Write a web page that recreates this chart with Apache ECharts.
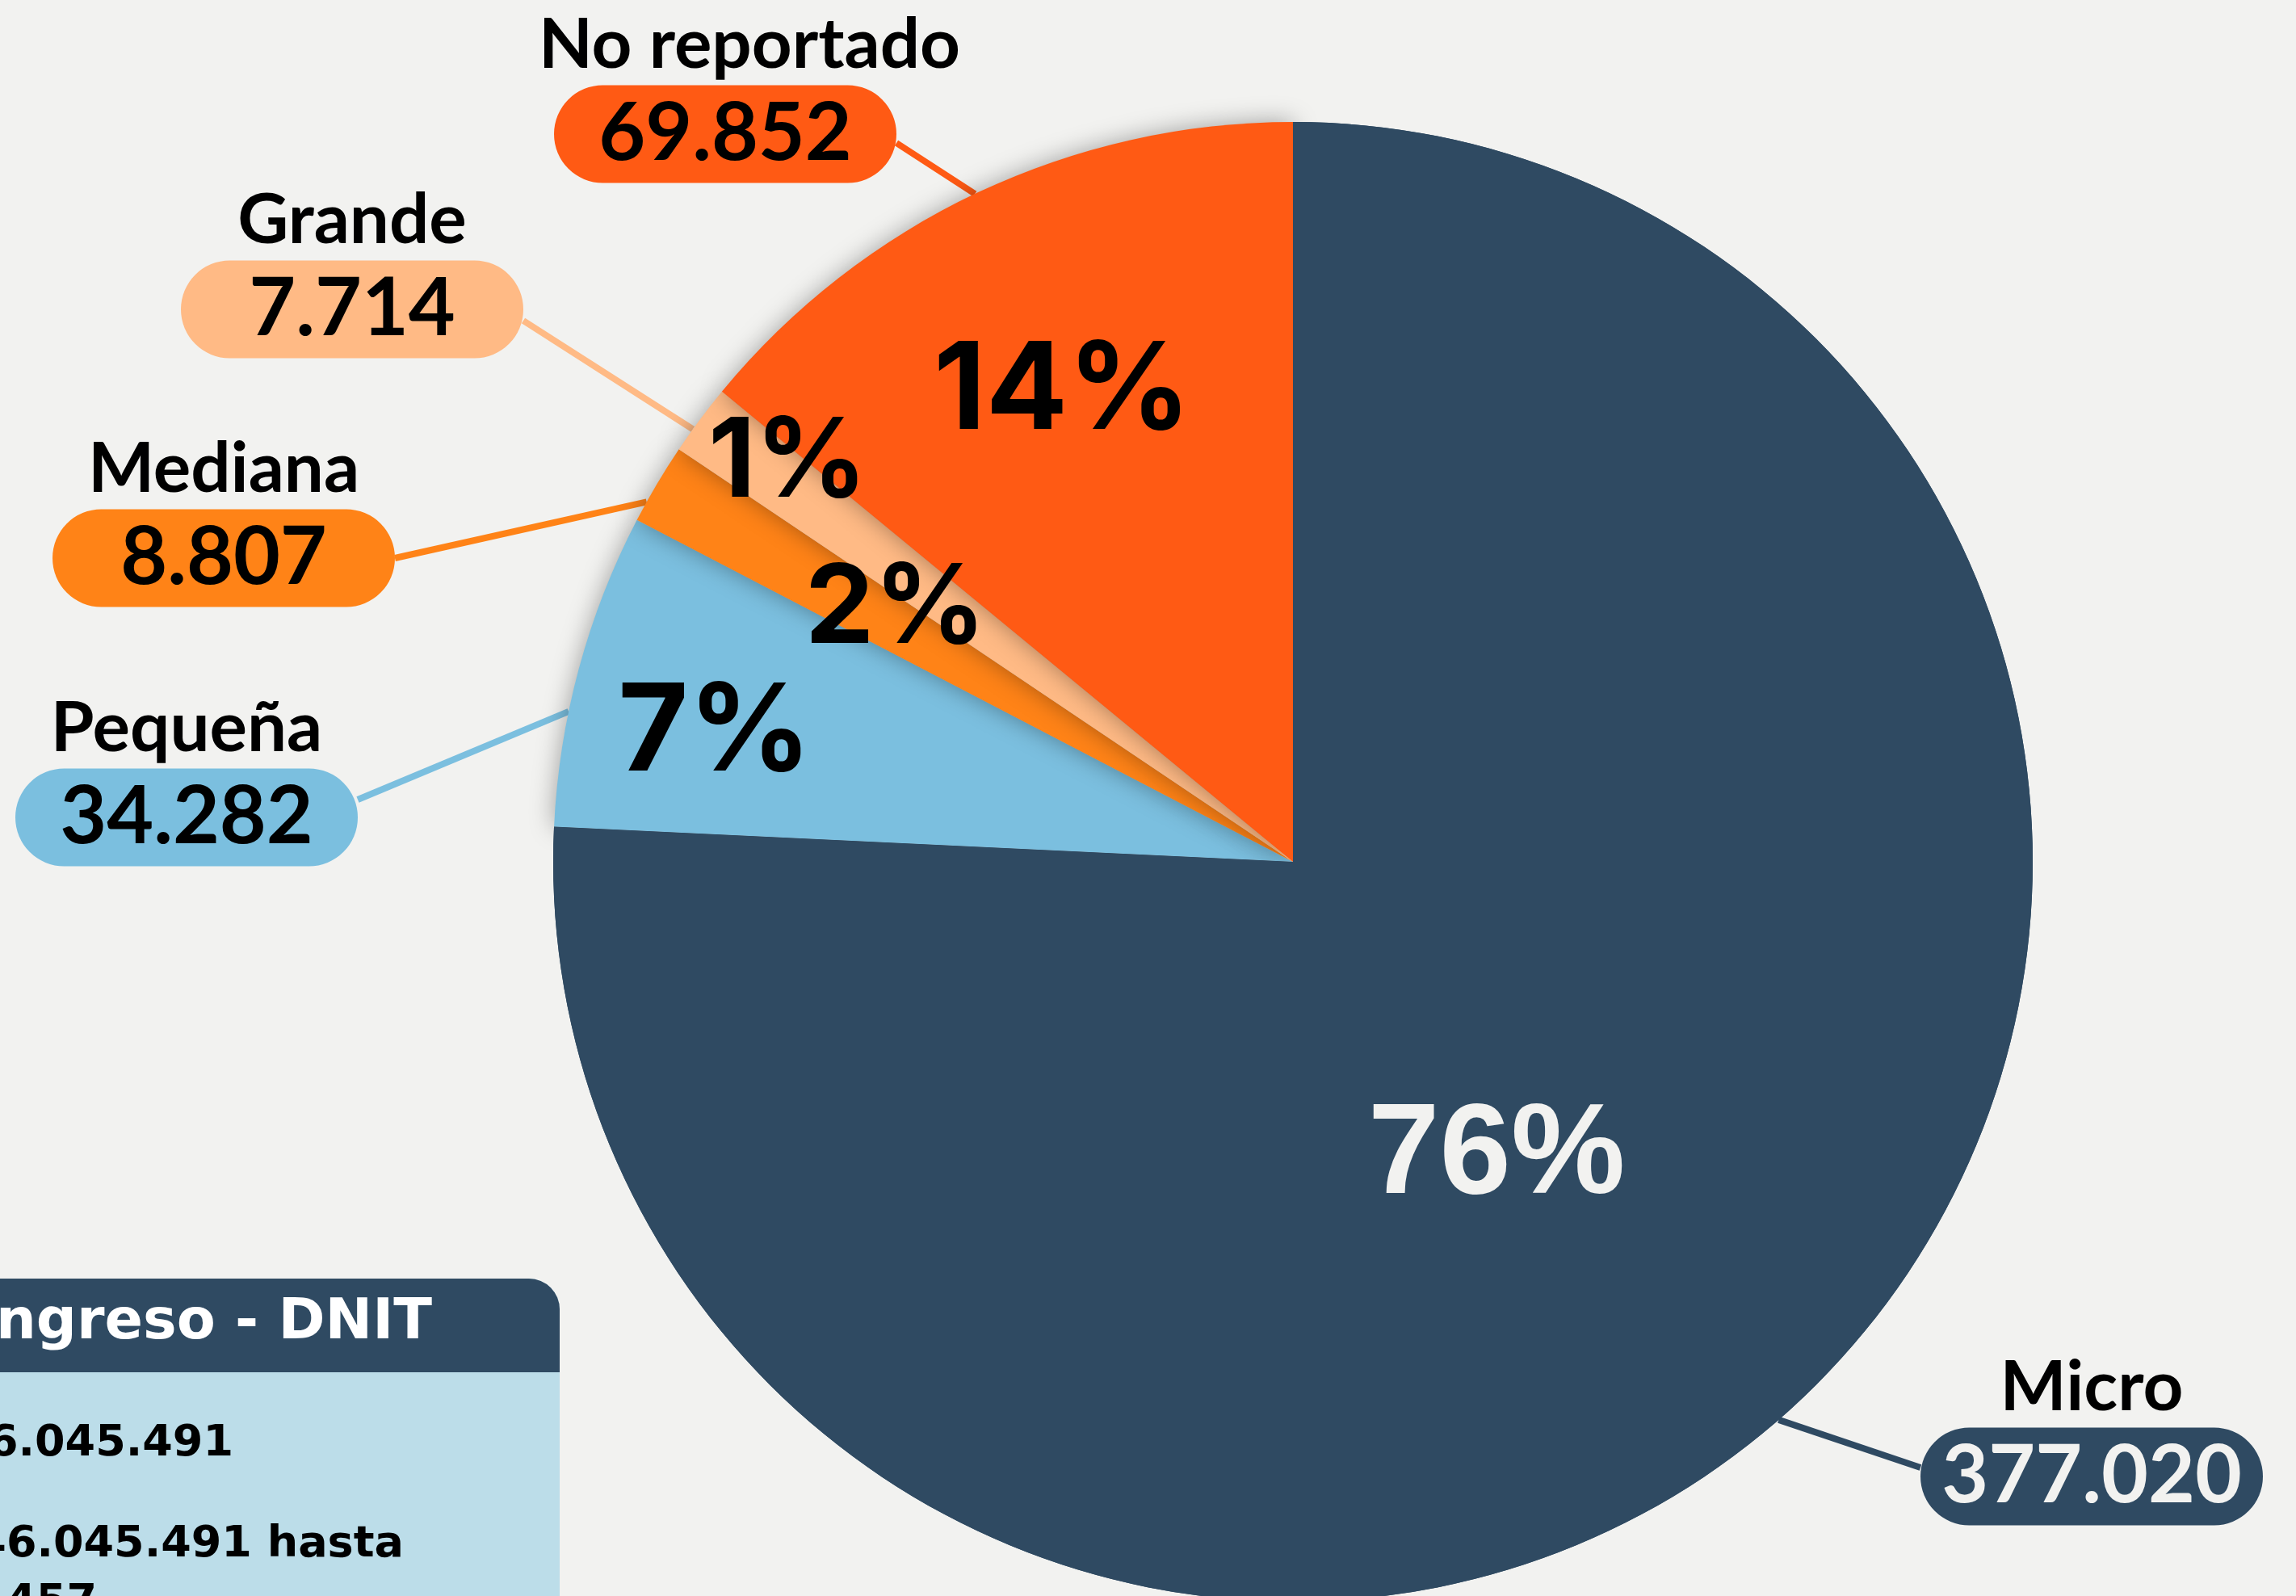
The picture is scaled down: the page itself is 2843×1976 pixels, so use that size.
<!DOCTYPE html>
<html>
<head>
<meta charset="utf-8">
<script src="https://cdn.jsdelivr.net/npm/echarts@6/dist/echarts.min.js"></script>
<style>
html,body{margin:0;padding:0;background:#F2F2F0;}
#c{width:2843px;height:1976px;}
</style>
</head>
<body>
<div id="c"></div>
<script>
// ---- data ----
const categories = ['Micro', 'Pequeña', 'Mediana', 'Grande', 'No reportado'];
const values = [377020, 34282, 8807, 7714, 69852];

// ---- styles / layout ----
const colors = ['#2F4A62', '#7BBFDF', '#FF8317', '#FFBA85', '#FF5A14'];
const PIE_CENTER = [1601, 1067];
const PIE_R = 916;
const PILL_W = 424, PILL_H = 121;
const pillCenters = [[2590, 1828], [231, 1012], [277, 691], [436, 383], [898, 166]];
const lineEndDy = [-11, -22, 0, 14, 11];
const lineStartDeg = [-2.6, 3.4, 1.6, 0.9, 0.2];
const namePadLeft = [0, 0, 0, 0, 60];
const pctOffsets = [[-66, 33], [-271, -38], [-96, -76], [-256, -218], [-89, -164]];
const pctSizes = [159, 150, 136, 136, 150];

function fmt(v) { return String(v).replace(/\B(?=(\d{3})+(?!\d))/g, '.'); }

const rich = {};
colors.forEach((c, i) => {
  rich['n' + i] = { fontFamily: 'Lato', fontWeight: 'bold', fontSize: 87, color: '#000', lineHeight: 100, align: 'center',
    padding: [0, 0, 0, namePadLeft[i]] };
  rich['v' + i] = {
    fontFamily: 'Lato', fontWeight: 'bold', fontSize: 100,
    color: i === 0 ? '#F2F2F0' : '#000',
    backgroundColor: c, borderRadius: PILL_H / 2,
    width: PILL_W, height: PILL_H, lineHeight: PILL_H, align: 'center'
  };
});

const chart = echarts.init(document.getElementById('c'), null, { renderer: 'canvas' });

const option = {
  backgroundColor: '#F2F2F0',
  animation: false,
  series: [
    {
      type: 'pie',
      center: PIE_CENTER,
      radius: PIE_R,
      startAngle: 90,
      clockwise: true,
      percentPrecision: 0,
      avoidLabelOverlap: false,
      emphasis: { disabled: true },
      data: categories.map((n, i) => ({
        name: n, value: values[i],
        itemStyle: i === 0 ? { color: colors[i] } : {
          color: colors[i], shadowBlur: 30, shadowColor: 'rgba(0,0,0,0.35)'
        },
        labelLine: { show: true, lineStyle: { color: colors[i], width: 8 } }
      })),
      label: {
        show: true,
        position: 'outside',
        formatter: p => '{n' + p.dataIndex + '|' + p.name + '}\n{v' + p.dataIndex + '|' + fmt(p.value) + '}',
        rich: rich
      },
      labelLine: { show: true, smooth: false, length: 30, length2: 30, lineStyle: { width: 8 } },
      labelLayout: function (params) {
        const i = params.dataIndex;
        const c = pillCenters[i];
        const edgeX = i === 0 ? c[0] - PILL_W / 2 : c[0] + PILL_W / 2;
        const res = { x: c[0], y: c[1] + PILL_H / 2, align: 'center', verticalAlign: 'bottom', hideOverlap: false };
        const pts = params.labelLinePoints;
        if (pts) {
          const p0 = pts[0];
          const a = Math.atan2(p0[1] - PIE_CENTER[1], p0[0] - PIE_CENTER[0]) - lineStartDeg[i] * Math.PI / 180;
          const start = [PIE_CENTER[0] + PIE_R * Math.cos(a), PIE_CENTER[1] + PIE_R * Math.sin(a)];
          res.labelLinePoints = [start, [edgeX, c[1] + lineEndDy[i]]];
        }
        return res;
      }
    },
    {
      type: 'pie',
      center: PIE_CENTER,
      radius: PIE_R,
      startAngle: 90,
      clockwise: true,
      percentPrecision: 0,
      silent: true,
      avoidLabelOverlap: false,
      emphasis: { disabled: true },
      labelLine: { show: false },
      labelLayout: { hideOverlap: false },
      data: categories.map((n, i) => ({
        name: n, value: values[i],
        itemStyle: { color: i === 0 ? colors[0] : 'rgba(0,0,0,0)' },
        label: {
          offset: pctOffsets[i],
          fontSize: pctSizes[i],
          fontFamily: i === 0 ? 'Liberation Sans' : 'Inter',
          color: i === 0 ? '#F2F2F0' : '#000'
        }
      })),
      label: {
        show: true,
        position: 'inside',
        formatter: '{d}%',
        fontWeight: 'bold'
      }
    }
  ],
  graphic: [
    { type: 'rect', shape: { x: -40, y: 1583, width: 733, height: 460, r: [0, 38, 0, 0] }, style: { fill: '#BCDDE9' } },
    { type: 'rect', shape: { x: -40, y: 1583, width: 733, height: 116, r: [0, 38, 0, 0] }, style: { fill: '#2F4A62' } },
    { type: 'text', style: { text: 'Clasificación por Ingreso - DNIT', x: 535, y: 1639, textAlign: 'right', textVerticalAlign: 'middle', fill: '#FFFFFF', font: 'bold 70px "DejaVu Sans"' } },
    { type: 'text', style: { text: 'Micro: hasta Gs. 646.045.491', x: 289, y: 1788, textAlign: 'right', textVerticalAlign: 'middle', fill: '#000', font: 'bold 54px "DejaVu Sans"' } },
    { type: 'text', style: { text: 'Pequeña: desde Gs. 646.045.491 hasta', x: 500, y: 1913, textAlign: 'right', textVerticalAlign: 'middle', fill: '#000', font: 'bold 54px "DejaVu Sans"' } },
    { type: 'text', style: { text: 'Gs. 3.230.227.457', x: 120, y: 1985, textAlign: 'right', textVerticalAlign: 'middle', fill: '#000', font: 'bold 54px "DejaVu Sans"' } }
  ]
};
chart.setOption(option);
</script>
</body>
</html>
